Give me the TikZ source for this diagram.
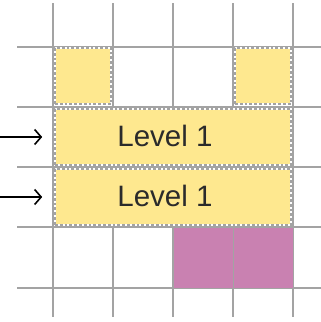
\documentclass[tikz,border=0pt]{standalone}
\usepackage{fontspec}
\setmainfont{Liberation Sans}
\usetikzlibrary{arrows.meta}
\definecolor{gridgray}{HTML}{A3A3A3}
\definecolor{cellyellow}{HTML}{FEE88F}
\definecolor{cellpink}{HTML}{C981B1}
\definecolor{labelink}{HTML}{2B2B2B}
\begin{document}
\begin{tikzpicture}[x=1pt,y=-1pt,
  gridline/.style={draw=gridgray, line width=1.8pt},
  dashbox/.style={fill=cellyellow, draw=white, line width=1.6pt, inner sep=0pt,
    minimum height=56pt,
    postaction={draw=gridgray, line width=1.6pt, dash pattern=on 2.8pt off 2pt}},
  pinkbox/.style={fill=cellpink, draw=none, inner sep=0pt,
    minimum width=58.6pt, minimum height=60pt},
  levellabel/.style={font=\fontsize{29.5}{32}\selectfont, text=labelink},
  inarrow/.style={draw=black, line width=1.6pt,
    -{Straight Barb[length=6.5pt,width=15pt,line width=1.6pt]}}]
  \useasboundingbox (0,0) rectangle (321,322);

  % grid
  \foreach \gx in {53,113,173,233,293}
    \draw[gridline] (\gx,3) -- (\gx,317);
  \foreach \gy in {47,107,167,227,288}
    \draw[gridline] (17,\gy) -- (321,\gy);

  % single yellow cells in the top row
  \node[dashbox, minimum width=56pt] (c1) at (83,76) {};
  \node[dashbox, minimum width=56pt] (c4) at (263,76) {};

  % two full-width rows
  \node[dashbox, minimum width=236pt] (row2) at (173,137) {};
  \node[dashbox, minimum width=236pt] (row3) at (173,197) {};
  \node[levellabel] (lab2) at (165,136) {Level 1};
  \node[levellabel] (lab3) at (165,196) {Level 1};

  % pink cells
  \node[pinkbox] (p3) at (203.5,257.5) {};
  \node[pinkbox] (p4) at (263.7,257.5) {};

  % incoming arrows
  \coordinate (a2) at (0,137);
  \coordinate (a3) at (0,197);
  \draw[inarrow] (a2) -- ([xshift=-12pt]row2.west);
  \draw[inarrow] (a3) -- ([xshift=-12pt]row3.west);
\end{tikzpicture}
\end{document}
